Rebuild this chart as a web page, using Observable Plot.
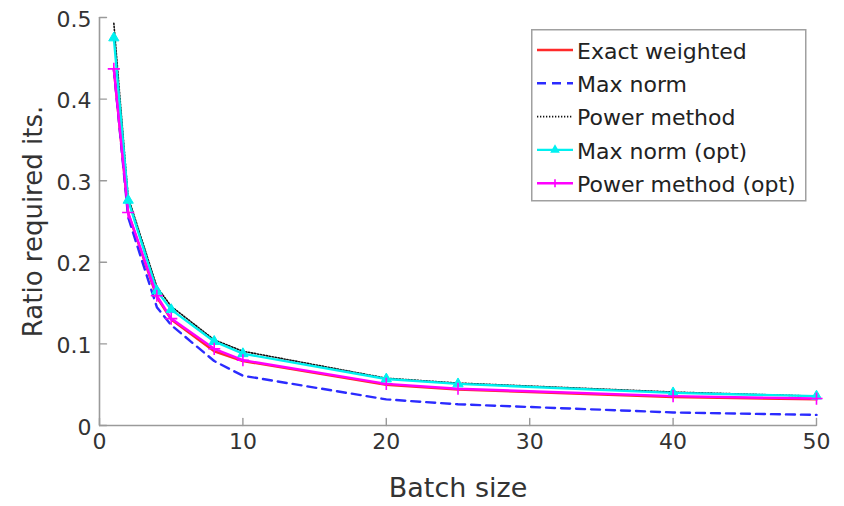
<!DOCTYPE html>
<html>
<head>
<meta charset="utf-8">
<script src="https://cdn.jsdelivr.net/npm/d3@7"></script>
<script src="https://cdn.jsdelivr.net/npm/@observablehq/plot@0.6"></script>
<style>
  html, body { margin: 0; padding: 0; background: #fff; overflow: hidden; }
  #wrap { position: relative; width: 844px; height: 506px; }
  #legend { position: absolute; left: 531px; top: 29px; }
</style>
</head>
<body>
<div id="wrap"></div>
<script>
// ---- data ----
const batch = [1, 2, 4, 5, 8, 10, 20, 25, 40, 50];
const exactWeighted  = [0.437, 0.260, 0.157, 0.130, 0.091, 0.079, 0.050, 0.044, 0.035, 0.032];
const maxNorm        = [0.437, 0.255, 0.145, 0.123, 0.079, 0.061, 0.032, 0.026, 0.016, 0.013];
const powerMethod    = [0.493, 0.280, 0.170, 0.146, 0.105, 0.091, 0.058, 0.052, 0.041, 0.036];
const maxNormOpt     = [0.475, 0.276, 0.165, 0.142, 0.103, 0.088, 0.057, 0.051, 0.040, 0.036];
const powerMethodOpt = [0.437, 0.261, 0.159, 0.131, 0.094, 0.080, 0.051, 0.045, 0.036, 0.033];
const seriesNames = ["Exact weighted", "Max norm", "Power method", "Max norm (opt)", "Power method (opt)"];
const xTicks = [0, 10, 20, 30, 40, 50];
const yTicks = [0, 0.1, 0.2, 0.3, 0.4, 0.5];
const xLabel = "Batch size";
const yLabel = "Ratio required its.";

const rows = (vals) => batch.map((b, i) => ({x: b, y: vals[i]}));

const styles = [
  {stroke: "#ff2a2a", strokeWidth: 2.4},
  {stroke: "#2b2bff", strokeWidth: 2.4, strokeDasharray: "9,6"},
  {stroke: "#111", strokeWidth: 1.6, strokeDasharray: "1.3,1.7"},
  {stroke: "#00f0f0", strokeWidth: 2.4},
  {stroke: "#ff00ff", strokeWidth: 2.4}
];
const seriesVals = [exactWeighted, maxNorm, powerMethod, maxNormOpt, powerMethodOpt];

const tickShape = {draw(ctx, l) { ctx.moveTo(0, 0); ctx.lineTo(0, -l); }};
const axisColor = "#9a9a9a";

const chart = Plot.plot({
  width: 844,
  height: 506,
  marginLeft: 99,
  marginRight: 28,
  marginTop: 17,
  marginBottom: 81,
  style: {fontFamily: "DejaVu Sans", fontSize: "22px", color: "#333", background: "#fff"},
  x: {domain: [0, 50]},
  y: {domain: [0, 0.5]},
  marks: [
    Plot.ruleY([0], {stroke: axisColor, strokeWidth: 1.6}),
    Plot.ruleX([0], {stroke: axisColor, strokeWidth: 1.6}),
    Plot.vector(xTicks, {x: d => d, frameAnchor: "bottom", length: 7, rotate: 0, anchor: "start", shape: tickShape, stroke: axisColor, strokeWidth: 1.4}),
    Plot.vector(yTicks, {y: d => d, frameAnchor: "left", length: 7, rotate: 90, anchor: "start", shape: tickShape, stroke: axisColor, strokeWidth: 1.4}),
    Plot.axisX(xTicks, {tickSize: 0, tickPadding: 8, label: null, tickFormat: d => String(d)}),
    Plot.axisY(yTicks, {tickSize: 0, tickPadding: 8, label: null, dy: 2, tickFormat: d => d === 0 ? "0" : d3.format(".1f")(d)}),
    Plot.text([xLabel], {text: d => d, frameAnchor: "bottom", textAnchor: "middle", dy: 63, lineAnchor: "middle", fontSize: 27}),
    Plot.text([yLabel], {text: d => d, frameAnchor: "left", textAnchor: "middle", dx: -66, rotate: -90, lineAnchor: "middle", fontSize: 26}),
    ...seriesVals.map((v, i) => Plot.line(rows(v), {x: "x", y: "y", ...styles[i]})),
    Plot.dot(rows(maxNormOpt), {x: "x", y: "y", symbol: "triangle", r: 3.8, fill: "#00f0f0", stroke: "#00f0f0", strokeWidth: 1}),
    Plot.dot(rows(powerMethodOpt), {x: "x", y: "y", symbol: "plus", r: 4, stroke: "#ff00ff", strokeWidth: 1.6})
  ]
});

const wrap = document.getElementById("wrap");
wrap.appendChild(chart);

// ---- legend (overlay box inside the axes) ----
const lw = 274, lh = 171;
const leg = d3.create("svg").attr("id", "legend").attr("width", lw + 2).attr("height", lh + 2)
  .style("font-family", "DejaVu Sans").style("font-size", "22px");
leg.append("rect").attr("x", 0.75).attr("y", 0.75).attr("width", lw).attr("height", lh)
  .attr("fill", "#fff").attr("stroke", "#a0a0a0").attr("stroke-width", 1.5);
seriesNames.forEach((name, i) => {
  const y = 21 + i * 33.3;
  const s = styles[i];
  leg.append("line").attr("x1", 6).attr("x2", 42).attr("y1", y).attr("y2", y)
    .attr("stroke", s.stroke).attr("stroke-width", s.strokeWidth)
    .attr("stroke-dasharray", s.strokeDasharray || null);
  if (i === 3) {
    leg.append("path").attr("d", d3.symbol(d3.symbolTriangle, 40)()).attr("transform", `translate(24,${y})`)
      .attr("fill", "#00f0f0");
  }
  if (i === 4) {
    leg.append("path").attr("d", "M-4,0H4M0,-4V4").attr("transform", `translate(24,${y})`)
      .attr("stroke", "#ff00ff").attr("stroke-width", 1.6);
  }
  leg.append("text").attr("x", 46).attr("y", y + 1).attr("dy", "0.35em").attr("fill", "#222").text(name);
});
wrap.appendChild(leg.node());
</script>
</body>
</html>
